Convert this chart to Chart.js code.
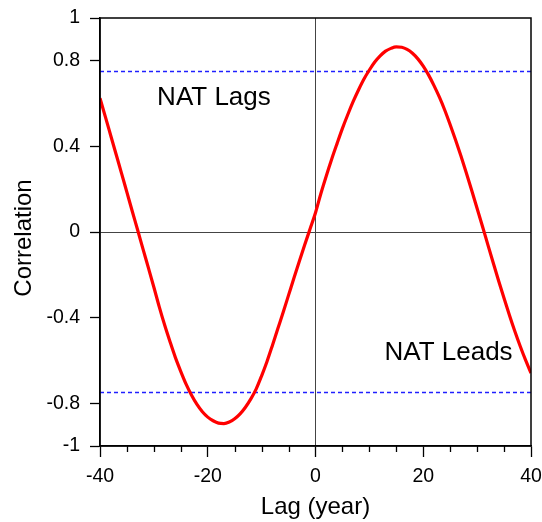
<!DOCTYPE html>
<html>
<head>
<meta charset="utf-8">
<script src="https://cdn.jsdelivr.net/npm/chart.js@4.4.1/dist/chart.umd.min.js"></script>
<style>
  body { margin: 0; background: #fff; }
  canvas { display: block; }
</style>
</head>
<body>
<canvas id="chart" width="542" height="522"></canvas>
<script>
// lag in years, -40 .. 40
const lags = [];
for (let i = -40; i <= 40; i++) lags.push(i);

// correlation, one value per lag
const correlation = [
  0.625, 0.538, 0.450, 0.362, 0.274, 0.185, 0.096, 0.008,
  -0.081, -0.169, -0.258, -0.350, -0.435, -0.513, -0.587, -0.652,
  -0.712, -0.763, -0.806, -0.840, -0.865, -0.882, -0.893, -0.895,
  -0.888, -0.873, -0.850, -0.819, -0.780, -0.733, -0.672, -0.605,
  -0.530, -0.452, -0.375, -0.295, -0.215, -0.137, -0.060, 0.015,
  0.090,
  0.180, 0.262, 0.340, 0.413, 0.484, 0.549, 0.610, 0.665,
  0.715, 0.757, 0.794, 0.823, 0.845, 0.858, 0.865, 0.863,
  0.853, 0.835, 0.809, 0.775, 0.733, 0.684, 0.630, 0.569,
  0.501, 0.430, 0.355, 0.276, 0.194, 0.110, 0.026, -0.060,
  -0.145, -0.229, -0.310, -0.389, -0.464, -0.534, -0.599, -0.659
];

// significance levels (dashed blue)
const significance = [0.75, -0.75];

const yTicks = [-1, -0.8, -0.4, 0, 0.4, 0.8, 1];
const xMinorTicks = [-35, -30, -25, -15, -10, -5, 5, 10, 15, 25, 30, 35];

const notes = ['NAT Lags', 'NAT Leads'];
const noteLag = [-29.4, 12.8];
const noteCorr = [0.592, -0.597];

const yTitle = 'Correlation';

const FONT = "'Liberation Sans', Arial, Helvetica, sans-serif";

const datasets = [{
  data: lags.map((x, i) => ({ x: x, y: correlation[i] })),
  borderColor: '#ff0000',
  borderWidth: 3.2,
  pointRadius: 0,
  cubicInterpolationMode: 'monotone',
  order: 0
}];
significance.forEach(v => {
  datasets.push({
    data: [{ x: lags[0], y: v }, { x: lags[lags.length - 1], y: v }],
    borderColor: '#2020ff',
    borderWidth: 1.3,
    borderDash: [4, 3],
    pointRadius: 0,
    order: 1
  });
});

const framePlugin = {
  id: 'frame',
  afterDraw(chart) {
    const { ctx, chartArea: a, scales: { x, y } } = chart;
    ctx.save();
    // minor ticks along the bottom
    ctx.strokeStyle = '#000';
    ctx.lineWidth = 1.3;
    ctx.beginPath();
    xMinorTicks.forEach(v => {
      const px = Math.round(x.getPixelForValue(v)) + 0.5;
      ctx.moveTo(px, a.bottom);
      ctx.lineTo(px, a.bottom + 6);
    });
    ctx.stroke();
    // box
    ctx.lineWidth = 1.5;
    ctx.strokeRect(a.left, a.top, a.right - a.left, a.bottom - a.top);
    // text notes
    ctx.fillStyle = '#000';
    ctx.font = '26px ' + FONT;
    ctx.textBaseline = 'alphabetic';
    ctx.textAlign = 'left';
    notes.forEach((t, i) => {
      ctx.fillText(t, x.getPixelForValue(noteLag[i]), y.getPixelForValue(noteCorr[i]));
    });
    // y axis title, sits a little below the middle in the original
    ctx.font = '24px ' + FONT;
    ctx.textAlign = 'center';
    ctx.textBaseline = 'middle';
    ctx.translate(24, (a.top + a.bottom) / 2 + 6);
    ctx.rotate(-Math.PI / 2);
    ctx.fillText(yTitle, 0, 0);
    ctx.restore();
  }
};

new Chart(document.getElementById('chart'), {
  type: 'line',
  data: { datasets: datasets },
  options: {
    responsive: false,
    animation: false,
    devicePixelRatio: 1,
    layout: { padding: { left: 0, right: 11, top: 18, bottom: 0 } },
    plugins: { legend: { display: false }, tooltip: { enabled: false } },
    scales: {
      x: {
        type: 'linear',
        min: -40,
        max: 40,
        afterFit: s => { s.height = 76; s.paddingLeft = 0; s.paddingRight = 0; },
        ticks: {
          stepSize: 20,
          color: '#000',
          padding: 8,
          font: { family: FONT, size: 19.5 }
        },
        grid: {
          color: c => (c.tick && c.tick.value === 0) ? '#444' : 'rgba(0,0,0,0)',
          tickColor: '#000',
          tickLength: 11,
          lineWidth: 1,
          tickWidth: 1.3
        },
        border: { color: '#000', width: 1.5 },
        title: {
          display: true,
          text: 'Lag (year)',
          color: '#000',
          font: { family: FONT, size: 24 },
          padding: { top: 0, bottom: 0 }
        }
      },
      y: {
        min: -1,
        max: 1,
        afterFit: s => { s.width = 100; s.paddingTop = 0; s.paddingBottom = 0; },
        afterBuildTicks: s => { s.ticks = yTicks.map(v => ({ value: v })); },
        ticks: {
          color: '#000',
          padding: 10,
          font: { family: FONT, size: 19.5 },
          callback: v => String(v)
        },
        grid: {
          color: c => (c.tick && c.tick.value === 0) ? '#444' : 'rgba(0,0,0,0)',
          tickColor: '#000',
          tickLength: 10,
          lineWidth: 1,
          tickWidth: 1.3
        },
        border: { color: '#000', width: 1.5 }
      }
    }
  },
  plugins: [framePlugin]
});
</script>
</body>
</html>
